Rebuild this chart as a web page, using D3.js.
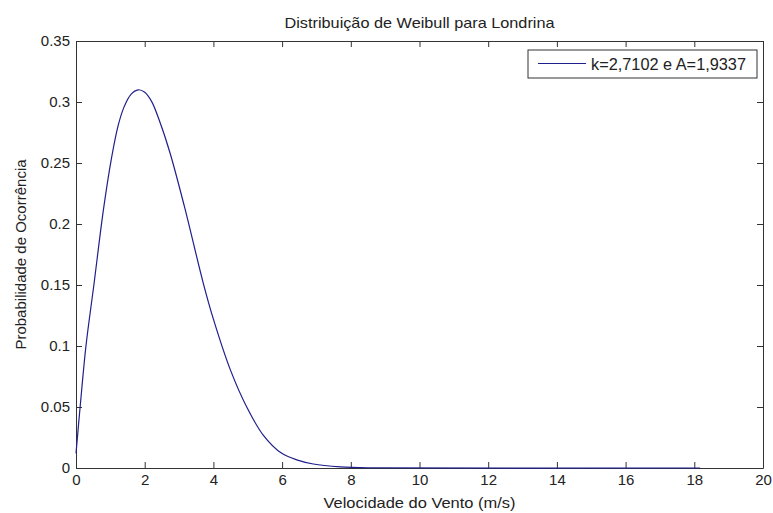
<!DOCTYPE html>
<html>
<head>
<meta charset="utf-8">
<script src="https://cdn.jsdelivr.net/npm/d3@7"></script>
<style>
  body { margin: 0; background: #fff; }
  svg text { font-family: "Liberation Sans", Arial, sans-serif; fill: #222; }
</style>
</head>
<body>
<svg id="grafico"></svg>
<script>
var width = 773,
    height = 513,
    margin = {top: 41, right: 10, bottom: 45, left: 76}

// valores
var velocidade = [0, 0.12, 0.29, 0.52, 0.80, 1.04, 1.23, 1.4, 1.6, 1.81, 2.0, 2.2, 2.45, 2.74, 3.15, 3.71, 4.0, 4.5, 4.97, 5.45, 5.99, 6.45, 6.91, 7.69, 8.5, 18.17]
var probabilidade = [0.012, 0.05, 0.10, 0.15, 0.212, 0.255, 0.281, 0.296, 0.3063, 0.310, 0.308, 0.3005, 0.283, 0.258, 0.215, 0.151, 0.122, 0.080, 0.050, 0.027, 0.012, 0.0065, 0.0033, 0.001, 0.0002, 0]

var xTicks = [0, 2, 4, 6, 8, 10, 12, 14, 16, 18, 20]
var yTicks = [0, 0.05, 0.1, 0.15, 0.2, 0.25, 0.3, 0.35]
var yTickLabels = ["0", "0.05", "0.1", "0.15", "0.2", "0.25", "0.3", "0.35"]

var titulo = "Distribuição de Weibull para Londrina",
    rotuloX = "Velocidade do Vento (m/s)",
    rotuloY = "Probabilidade de Ocorrência",
    legenda = "k=2,7102 e A=1,9337"

var corLinha = "#1f1f8c",
    corEixo = "#333"

var svg = d3.select("#grafico")
    .attr("width", width)
    .attr("height", height)

var x = d3.scaleLinear().domain([0, 20]).range([margin.left, width - margin.right])
var y = d3.scaleLinear().domain([0, 0.35]).range([height - margin.bottom, margin.top])

// eixos estilo matlab, ticks para dentro
var eixoX = d3.axisBottom(x).tickValues(xTicks).tickSizeInner(-6).tickSizeOuter(0).tickPadding(6)
var eixoY = d3.axisLeft(y).tickValues(yTicks).tickSizeInner(-6).tickSizeOuter(0).tickPadding(6)
    .tickFormat(function(d, i) { return yTickLabels[i] })

svg.append("g")
    .attr("transform", "translate(0," + y(0) + ")")
    .call(eixoX)
svg.append("g")
    .attr("transform", "translate(" + x(0) + ",0)")
    .call(eixoY)
svg.append("g")
    .attr("transform", "translate(0," + y(0.35) + ")")
    .call(d3.axisTop(x).tickValues(xTicks).tickSizeInner(-6).tickSizeOuter(0).tickFormat(""))
svg.append("g")
    .attr("transform", "translate(" + x(20) + ",0)")
    .call(d3.axisRight(y).tickValues(yTicks).tickSizeInner(-6).tickSizeOuter(0).tickFormat(""))

svg.selectAll(".domain, .tick line").attr("stroke", corEixo)
svg.selectAll(".tick text").attr("font-size", 15).attr("fill", "#222")
    .style("font-family", "'Liberation Sans', Arial, sans-serif")

// curva
var linha = d3.line()
    .x(function(d) { return x(d[0]) })
    .y(function(d) { return y(d[1]) })
    .curve(d3.curveCatmullRom.alpha(0.5))

svg.append("path")
    .datum(d3.zip(velocidade, probabilidade))
    .attr("d", linha)
    .attr("fill", "none")
    .attr("stroke", corLinha)
    .attr("stroke-width", 1.2)

// titulo e rotulos (imagem original esticada na horizontal)
svg.append("text")
    .attr("x", (x(0) + x(20)) / 2)
    .attr("y", 28)
    .attr("text-anchor", "middle")
    .attr("font-size", 15)
    .attr("textLength", 270)
    .attr("lengthAdjust", "spacingAndGlyphs")
    .text(titulo)

svg.append("text")
    .attr("x", (x(0) + x(20)) / 2)
    .attr("y", 508)
    .attr("text-anchor", "middle")
    .attr("font-size", 15)
    .attr("textLength", 192)
    .attr("lengthAdjust", "spacingAndGlyphs")
    .text(rotuloX)

svg.append("text")
    .attr("transform", "translate(26," + (y(0) + y(0.35)) / 2 + ") rotate(-90)")
    .attr("text-anchor", "middle")
    .attr("font-size", 15)
    .text(rotuloY)

// legenda
var leg = svg.append("g").attr("transform", "translate(528,50)")
leg.append("rect")
    .attr("width", 229)
    .attr("height", 28)
    .attr("fill", "#fff")
    .attr("stroke", corEixo)
leg.append("line")
    .attr("x1", 10).attr("x2", 58)
    .attr("y1", 13.5).attr("y2", 13.5)
    .attr("stroke", corLinha)
    .attr("stroke-width", 1.2)
leg.append("text")
    .attr("x", 63)
    .attr("y", 20)
    .attr("font-size", 16)
    .attr("textLength", 155)
    .attr("lengthAdjust", "spacingAndGlyphs")
    .text(legenda)
</script>
</body>
</html>
